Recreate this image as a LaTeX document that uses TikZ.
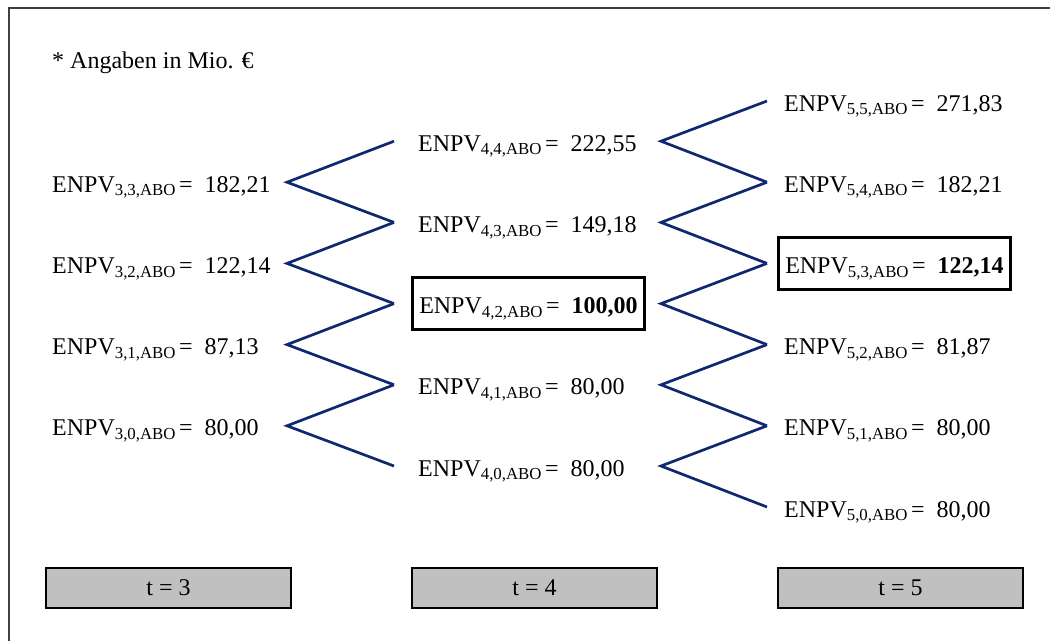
\documentclass[tikz,border=0pt]{standalone}
\usepackage{fontspec}
\setmainfont{Liberation Serif}
\usepackage{tikz}
\definecolor{navy}{RGB}{16,40,112}
\definecolor{framegray}{RGB}{64,64,64}
\definecolor{tgray}{RGB}{192,192,192}
\newcommand{\npv}[2]{ENPV\textsubscript{#1,ABO}\hspace{3pt}=\hspace{12pt}#2}

\begin{document}
\begin{tikzpicture}[x=1pt,y=-1pt,
  val/.style={font=\fontsize{24}{28}\selectfont, anchor=base west, inner xsep=7pt, inner ysep=10pt, text height=26pt, text depth=6pt},
  hl/.style={val, draw=black, line width=2.5pt},
  period/.style={draw=black, line width=2.5pt, fill=tgray, minimum width=245pt, minimum height=40pt, inner sep=0pt, font=\fontsize{24}{28}\selectfont},
  zz/.style={draw=navy, line width=2.7pt}]
\useasboundingbox (0,0) rectangle (1050,641);
\draw[color=framegray, line width=1.6pt] (9,641) -- (9,8) -- (1050,8);

\node[val, inner sep=0pt] (note) at (52,68) {* Angaben in Mio. €};

% t = 3
\node[val] (v33) at (45,192.2) {\npv{3,3}{182,21}};
\node[val] (v32) at (45,273.4) {\npv{3,2}{122,14}};
\node[val] (v31) at (45,354.6) {\npv{3,1}{87,13}};
\node[val] (v30) at (45,435.8) {\npv{3,0}{80,00}};
% t = 4
\node[val] (v44) at (411,151.2) {\npv{4,4}{222,55}};
\node[val] (v43) at (411,232.4) {\npv{4,3}{149,18}};
\node[hl]  (v42) at (411,313.6) {\npv{4,2}{\textbf{100,00}}};
\node[val] (v41) at (411,394.8) {\npv{4,1}{80,00}};
\node[val] (v40) at (411,476) {\npv{4,0}{80,00}};
% t = 5
\node[val] (v55) at (777,111) {\npv{5,5}{271,83}};
\node[val] (v54) at (777,192.2) {\npv{5,4}{182,21}};
\node[hl]  (v53) at (777,273.4) {\npv{5,3}{\textbf{122,14}}};
\node[val] (v52) at (777,354.6) {\npv{5,2}{81,87}};
\node[val] (v51) at (777,435.8) {\npv{5,1}{80,00}};
\node[val] (v50) at (777,517) {\npv{5,0}{80,00}};

% zigzag
\coordinate (c3) at (287,0);
\coordinate (e4) at (394,0);
\coordinate (c4) at (661,0);
\coordinate (e5) at (767,0);
\draw[zz] (e4 |- v44.west) -- (c3 |- v33.west) -- (e4 |- v43.west);
\draw[zz] (e4 |- v43.west) -- (c3 |- v32.west) -- (e4 |- v42.west);
\draw[zz] (e4 |- v42.west) -- (c3 |- v31.west) -- (e4 |- v41.west);
\draw[zz] (e4 |- v41.west) -- (c3 |- v30.west) -- (e4 |- v40.west);
\draw[zz] (e5 |- v55.west) -- (c4 |- v44.west) -- (e5 |- v54.west);
\draw[zz] (e5 |- v54.west) -- (c4 |- v43.west) -- (e5 |- v53.west);
\draw[zz] (e5 |- v53.west) -- (c4 |- v42.west) -- (e5 |- v52.west);
\draw[zz] (e5 |- v52.west) -- (c4 |- v41.west) -- (e5 |- v51.west);
\draw[zz] (e5 |- v51.west) -- (c4 |- v40.west) -- (e5 |- v50.west);

\node[period] (t3) at (168.5,588) {t = 3};
\node[period] (t4) at (534.5,588) {t = 4};
\node[period] (t5) at (900.5,588) {t = 5};
\end{tikzpicture}
\end{document}
